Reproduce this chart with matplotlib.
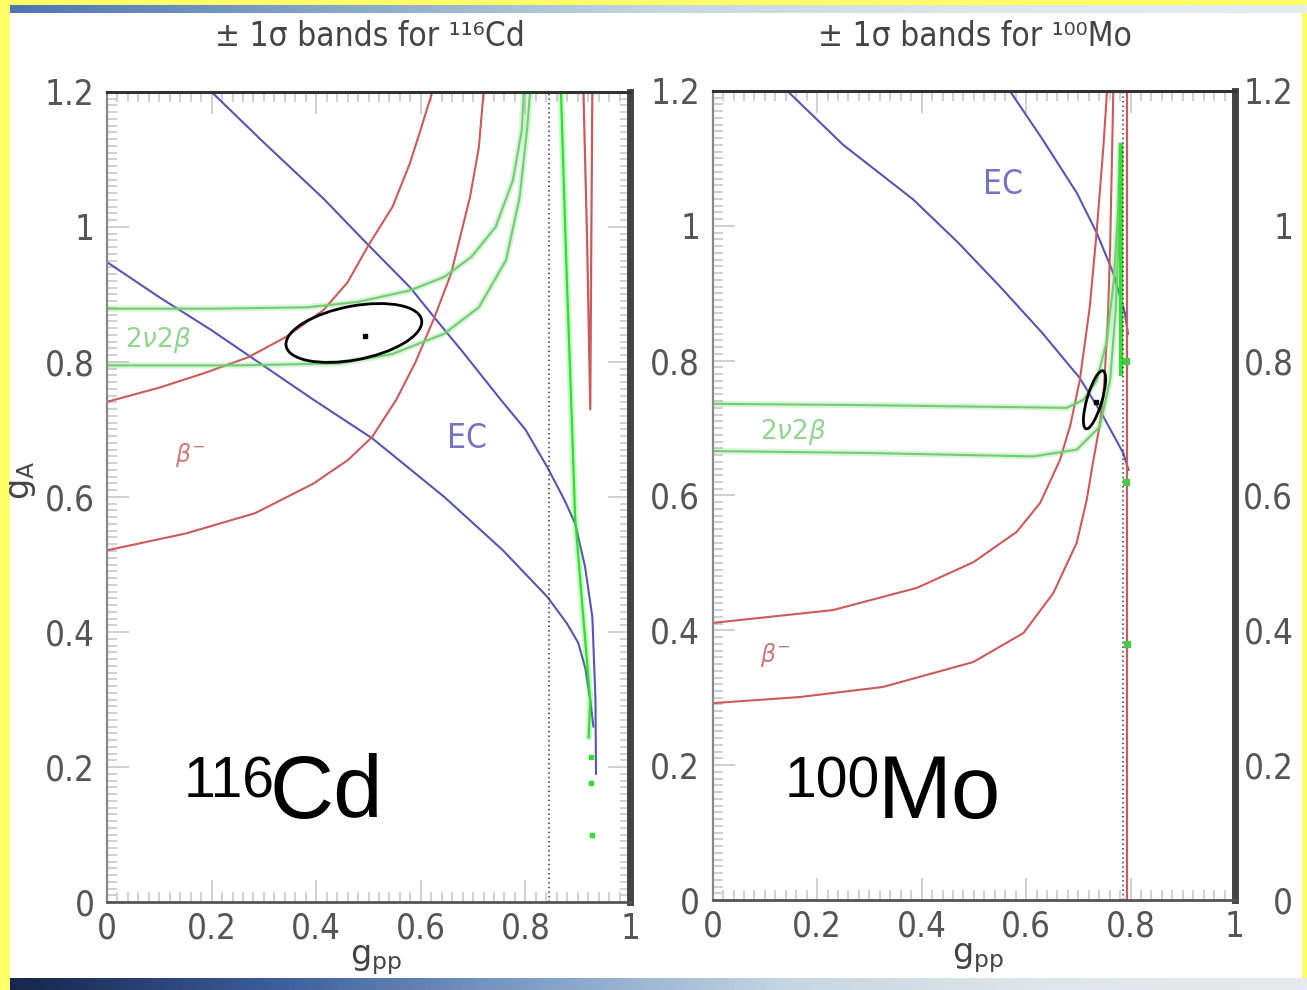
"""Two-panel g_A vs g_pp band plot (116Cd and 100Mo) on a slide background."""

import matplotlib
matplotlib.use("Agg")
import numpy as np
import matplotlib.pyplot as plt
from matplotlib.patches import Ellipse, Rectangle
from matplotlib.colors import LinearSegmentedColormap
from matplotlib.ticker import MultipleLocator, FixedLocator, FixedFormatter
from matplotlib import font_manager

ARIAL = ["Liberation Sans", "DejaVu Sans"]
# narrow face for ticks/titles if one is around
_names = {f.name for f in font_manager.fontManager.ttflist}
_condensed = any(f.name == "DejaVu Sans" and f.stretch == "condensed"
                 for f in font_manager.fontManager.ttflist)
if "Liberation Sans Narrow" in _names:
    NARROW = dict(family="Liberation Sans Narrow")
elif _condensed:
    NARROW = dict(family="DejaVu Sans", stretch="condensed")
else:
    NARROW = dict(family="DejaVu Sans")

# ---------------- 116Cd panel data (g_pp, g_A) ----------------
cd_ec_a_x = [0.20, 0.30, 0.414, 0.50, 0.579, 0.628, 0.678, 0.753, 0.80, 0.842, 0.875, 0.895, 0.914, 0.928, 0.934, 0.935]
cd_ec_a_y = [1.20, 1.125, 1.042, 0.973, 0.911, 0.864, 0.817, 0.744, 0.70, 0.644, 0.595, 0.561, 0.497, 0.422, 0.30, 0.19]
cd_ec_b_x = [0.0, 0.10, 0.20, 0.27, 0.395, 0.507, 0.645, 0.757, 0.842, 0.880, 0.901, 0.915, 0.924, 0.930]
cd_ec_b_y = [0.948, 0.896, 0.847, 0.810, 0.744, 0.687, 0.600, 0.521, 0.452, 0.412, 0.384, 0.345, 0.299, 0.26]
cd_beta_a_x = [0.0, 0.10, 0.184, 0.27, 0.342, 0.414, 0.46, 0.50, 0.546, 0.579, 0.60, 0.622]
cd_beta_a_y = [0.741, 0.762, 0.783, 0.807, 0.837, 0.877, 0.918, 0.973, 1.030, 1.094, 1.145, 1.20]
cd_beta_b_x = [0.0, 0.151, 0.283, 0.395, 0.461, 0.507, 0.553, 0.590, 0.625, 0.658, 0.694, 0.711, 0.720]
cd_beta_b_y = [0.521, 0.546, 0.576, 0.620, 0.655, 0.689, 0.744, 0.800, 0.864, 0.931, 1.044, 1.118, 1.20]
cd_beta_spike_x = [0.911, 0.918, 0.924, 0.926, 0.928]
cd_beta_spike_y = [1.20, 0.98, 0.73, 0.98, 1.20]
cd_2nu_a_x = [0.0, 0.20, 0.382, 0.48, 0.579, 0.645, 0.697, 0.743, 0.776, 0.793, 0.797]
cd_2nu_a_y = [0.879, 0.879, 0.881, 0.889, 0.906, 0.926, 0.956, 1.000, 1.069, 1.143, 1.20]
cd_2nu_b_x = [0.0, 0.25, 0.447, 0.546, 0.645, 0.711, 0.763, 0.789, 0.803, 0.809]
cd_2nu_b_y = [0.795, 0.795, 0.798, 0.812, 0.842, 0.881, 0.951, 1.044, 1.143, 1.20]
cd_2nu_vert_x = [0.868, 0.878, 0.888, 0.895, 0.908, 0.924, 0.921]
cd_2nu_vert_y = [1.20, 0.95, 0.731, 0.570, 0.447, 0.299, 0.244]
cd_2nu_dots_x = [0.925, 0.926, 0.928]
cd_2nu_dots_y = [0.215, 0.176, 0.099]
cd_fit_center = (0.472, 0.843)
cd_fit_size = (0.262, 0.080, 8.0)     # width, height, angle
cd_best = (0.493, 0.839)
cd_limit = 0.845

# ---------------- 100Mo panel data ----------------
mo_ec_a_x = [0.143, 0.25, 0.384, 0.47, 0.55, 0.63, 0.703, 0.748, 0.786, 0.796]
mo_ec_a_y = [1.20, 1.12, 1.039, 0.975, 0.910, 0.842, 0.774, 0.717, 0.663, 0.638]
mo_ec_b_x = [0.569, 0.63, 0.697, 0.735, 0.767, 0.789, 0.795]
mo_ec_b_y = [1.20, 1.13, 1.049, 0.990, 0.930, 0.871, 0.84]
mo_beta_a_x = [0.0, 0.23, 0.391, 0.499, 0.582, 0.627, 0.665, 0.685, 0.703, 0.722, 0.735, 0.748, 0.755]
mo_beta_a_y = [0.411, 0.430, 0.463, 0.501, 0.546, 0.589, 0.653, 0.705, 0.772, 0.880, 0.990, 1.117, 1.20]
mo_beta_b_x = [0.0, 0.166, 0.326, 0.499, 0.595, 0.652, 0.697, 0.716, 0.729, 0.740, 0.748, 0.756, 0.761, 0.767]
mo_beta_b_y = [0.292, 0.301, 0.316, 0.353, 0.396, 0.455, 0.530, 0.593, 0.653, 0.700, 0.747, 0.850, 0.969, 1.20]
mo_beta_vert_x = [0.794, 0.794]
mo_beta_vert_y = [0.0, 1.20]
mo_2nu_a_x = [0.0, 0.30, 0.678, 0.71, 0.735, 0.755, 0.768, 0.776, 0.780]
mo_2nu_a_y = [0.736, 0.734, 0.730, 0.742, 0.770, 0.830, 0.920, 1.020, 1.12]
mo_2nu_b_x = [0.0, 0.30, 0.614, 0.697, 0.741, 0.761, 0.772, 0.778, 0.782]
mo_2nu_b_y = [0.666, 0.663, 0.658, 0.668, 0.702, 0.772, 0.880, 1.000, 1.117]
mo_2nu_bar_x = [0.782, 0.782]
mo_2nu_bar_y = [0.78, 1.12]
mo_2nu_bits_x = [0.792, 0.792, 0.793]
mo_2nu_bits_y = [0.80, 0.62, 0.38]
mo_fit_center = (0.731, 0.742)
mo_fit_size = (0.092, 0.028, 68.6)
mo_best = (0.733, 0.739)
mo_limit = 0.785

x_ticks = [0, 0.2, 0.4, 0.6, 0.8, 1.0]
x_ticklabels = ["0", "0.2", "0.4", "0.6", "0.8", "1"]
y_ticks = [0, 0.2, 0.4, 0.6, 0.8, 1.0, 1.2]
y_ticklabels = ["0", "0.2", "0.4", "0.6", "0.8", "1", "1.2"]

BLUE = "#5555b4"
RED = "#cc5a5a"
GREEN = "#6fcf6f"
BRIGHT_GREEN = "#2fe02f"
TICK_GREY = "#c4c4c4"
LABEL_GREY = "#555555"

W, H = 1307, 990
fig = plt.figure(figsize=(W / 100, H / 100), dpi=100, facecolor="#ffff66")


def fx(px):
    return px / W


def fy(py):
    return 1 - py / H


# white slide area and gradient bars
fig.add_artist(Rectangle((fx(10), fy(978)), fx(1292), 965 / H, transform=fig.transFigure,
                         facecolor="white", edgecolor="none", zorder=0))
top_cmap = LinearSegmentedColormap.from_list("top", ["#4f74b4", "#86a6cc", "#c4d6e2", "#dde6ea", "#e6ecee"])
bot_cmap = LinearSegmentedColormap.from_list("bot", ["#17264c", "#3c5c9c", "#7e9ec8", "#c6d6e2", "#dfe6ea", "#e6eaec"])
grad = np.linspace(0, 1, 256).reshape(1, -1)
for cmap, rect in [(top_cmap, [fx(10), fy(13), fx(1297), 8 / H]),
                   (bot_cmap, [fx(10), 0, fx(1297), 12 / H])]:
    gax = fig.add_axes(rect)
    gax.imshow(grad, aspect="auto", cmap=cmap)
    gax.set_axis_off()


def style_axes(ax):
    ax.set_xlim(0, 1)
    ax.set_ylim(0, 1.2)
    ax.set_facecolor("white")
    ax.xaxis.set_major_locator(FixedLocator(x_ticks))
    ax.xaxis.set_major_formatter(FixedFormatter(x_ticklabels))
    ax.yaxis.set_major_locator(FixedLocator(y_ticks))
    ax.yaxis.set_major_formatter(FixedFormatter(y_ticklabels))
    ax.xaxis.set_minor_locator(MultipleLocator(0.02))
    ax.yaxis.set_minor_locator(MultipleLocator(0.01))
    ax.tick_params(which="both", direction="in", top=True, right=True, color=TICK_GREY, width=1.1)
    ax.tick_params(which="major", length=16, labelsize=25, labelcolor=LABEL_GREY)
    ax.tick_params(which="minor", length=7)
    ax.tick_params(axis="x", pad=7)
    ax.tick_params(axis="y", pad=9)
    for lab in ax.get_xticklabels() + ax.get_yticklabels():
        lab.set(**NARROW)
    ax.spines["top"].set(color="#333333", linewidth=2.2)
    ax.spines["bottom"].set(color="#555555", linewidth=2.0)
    ax.spines["left"].set(color="#888888", linewidth=1.6)
    ax.spines["right"].set(color="#444444", linewidth=5.0)


def band(ax, xs, ys, color, lw=1.5, glow=False):
    if glow:
        ax.plot(xs, ys, color=color, lw=lw + 3, alpha=0.25, solid_capstyle="round")
    ax.plot(xs, ys, color=color, lw=lw)


# ---------------- left panel ----------------
ax1 = fig.add_axes([fx(107), fy(902), fx(523), 810 / H])
style_axes(ax1)
band(ax1, cd_ec_a_x, cd_ec_a_y, BLUE)
band(ax1, cd_ec_b_x, cd_ec_b_y, BLUE)
band(ax1, cd_beta_a_x, cd_beta_a_y, RED)
band(ax1, cd_beta_b_x, cd_beta_b_y, RED)
band(ax1, cd_beta_spike_x, cd_beta_spike_y, RED, lw=1.6)
band(ax1, cd_2nu_a_x, cd_2nu_a_y, GREEN, glow=True)
band(ax1, cd_2nu_b_x, cd_2nu_b_y, GREEN, glow=True)
band(ax1, cd_2nu_vert_x, cd_2nu_vert_y, BRIGHT_GREEN, lw=1.6, glow=True)
ax1.scatter(cd_2nu_dots_x, cd_2nu_dots_y, s=12, marker="s", color=BRIGHT_GREEN, zorder=3)
ax1.axvline(cd_limit, color="#333333", lw=1.1, ls=(0, (1, 2)))
ax1.add_patch(Ellipse(cd_fit_center, cd_fit_size[0], cd_fit_size[1], angle=cd_fit_size[2],
                      fill=False, edgecolor="black", lw=2.0, zorder=4))
ax1.plot(*cd_best, "s", color="black", ms=3.5, zorder=5)
ax1.text(0.035, 0.832, r"$2\nu2\beta$", color="#93d493", fontsize=19, va="center")
ax1.text(0.13, 0.662, r"$\beta^{-}$", color="#d07a7a", fontsize=17, va="center")
ax1.text(0.688, 0.687, "EC", color="#7474c6", fontsize=24, ha="center", va="center", **NARROW)

# ---------------- right panel ----------------
ax2 = fig.add_axes([fx(712.7), fy(900), fx(522.3), 809 / H])
style_axes(ax2)
band(ax2, mo_ec_a_x, mo_ec_a_y, BLUE)
band(ax2, mo_ec_b_x, mo_ec_b_y, BLUE)
band(ax2, mo_beta_a_x, mo_beta_a_y, RED)
band(ax2, mo_beta_b_x, mo_beta_b_y, RED)
band(ax2, mo_beta_vert_x, mo_beta_vert_y, RED, lw=1.6)
band(ax2, mo_2nu_a_x, mo_2nu_a_y, GREEN, glow=True)
band(ax2, mo_2nu_b_x, mo_2nu_b_y, GREEN, glow=True)
band(ax2, mo_2nu_bar_x, mo_2nu_bar_y, BRIGHT_GREEN, lw=3.0)
ax2.scatter(mo_2nu_bits_x, mo_2nu_bits_y, s=14, marker="s", color="#4cc84c", zorder=3)
ax2.axvline(mo_limit, color="#333333", lw=1.1, ls=(0, (1, 2)))
ax2.add_patch(Ellipse(mo_fit_center, mo_fit_size[0], mo_fit_size[1], angle=mo_fit_size[2],
                      fill=False, edgecolor="black", lw=2.0, zorder=4))
ax2.plot(*mo_best, "s", color="black", ms=3.5, zorder=5)
ax2.text(0.09, 0.694, r"$2\nu2\beta$", color="#93d493", fontsize=19, va="center")
ax2.text(0.09, 0.364, r"$\beta^{-}$", color="#d07a7a", fontsize=17, va="center")
ax2.text(0.555, 1.061, "EC", color="#7474c6", fontsize=24, ha="center", va="center", **NARROW)

# duplicate y labels at far right (from the neighbouring slide panel)
ax2r = ax2.twinx()
ax2r.set_ylim(0, 1.2)
ax2r.yaxis.set_major_locator(FixedLocator(y_ticks))
ax2r.yaxis.set_major_formatter(FixedFormatter(y_ticklabels))
ax2r.tick_params(axis="y", length=0, pad=42, labelsize=25, labelcolor=LABEL_GREY)
for lab in ax2r.get_yticklabels():
    lab.set(**NARROW)
    lab.set_horizontalalignment("right")
for sp in ax2r.spines.values():
    sp.set_visible(False)

# titles and axis labels
fig.text(fx(370), fy(37), "± 1σ bands for ¹¹⁶Cd", ha="center", va="center",
         fontsize=24, color="#444444", **NARROW)
fig.text(fx(975), fy(37), "± 1σ bands for ¹⁰⁰Mo", ha="center", va="center",
         fontsize=24, color="#444444", **NARROW)
fig.text(fx(376), fy(960), r"$\mathregular{g_{pp}}$", ha="center", va="center",
         fontsize=24, color="#444444")
fig.text(fx(978), fy(958), r"$\mathregular{g_{pp}}$", ha="center", va="center",
         fontsize=24, color="#444444")
fig.text(fx(22), fy(480), r"$\mathregular{g_{A}}$", ha="center", va="center",
         fontsize=24, color="#444444", rotation=90)

# big isotope labels
fig.text(fx(184), fy(797), "116", fontsize=41, family=ARIAL, ha="left", va="baseline")
fig.text(fx(270), fy(818), "Cd", fontsize=64, family=ARIAL, ha="left", va="baseline")
fig.text(fx(785), fy(797), "100", fontsize=41, family=ARIAL, ha="left", va="baseline")
fig.text(fx(878), fy(818), "Mo", fontsize=64, family=ARIAL, ha="left", va="baseline")

fig.savefig("out.png", dpi=100, facecolor=fig.get_facecolor())
